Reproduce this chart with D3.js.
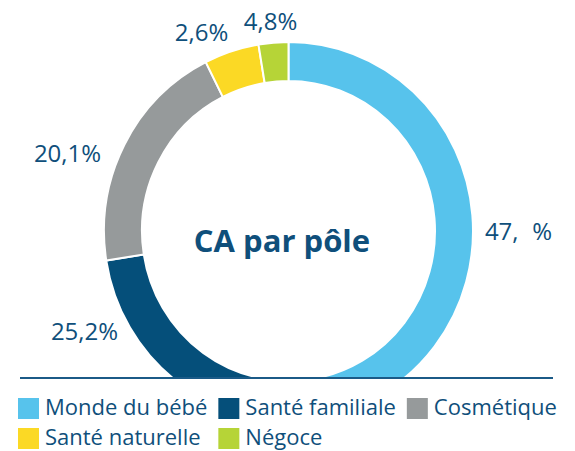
<!DOCTYPE html>
<html>
<head>
<meta charset="utf-8">
<script src="https://cdn.jsdelivr.net/npm/d3@7"></script>
<style>
  body { margin: 0; background: #fff; }
  svg { display: block; font-family: "Open Sans", sans-serif; }
</style>
</head>
<body>
<div id="chart"></div>
<script>
// data
const categories = ["Monde du bébé", "Santé familiale", "Cosmétique", "Santé naturelle", "Négoce"];
const shares = [47.3, 25.2, 20.1, 4.8, 2.6];
const colors = ["#57c3ec", "#054f7a", "#969a9b", "#fbd925", "#b6d437"];
// label anchors, relative to the donut centre
const labelOffsets = [[230, 1], [-204, 101], [-221, -77], [-18, -209], [-87, -198]];
const title = "CA par pôle";

const width = 575, height = 451;
const cx = 288.5, cy = 231, outerR = 184.5, innerR = 146.5;
const squash = 1.024; // the ring is drawn slightly taller than wide
const baseY = 378;
const textColor = "#0f4f7b";

const svg = d3.select("#chart").append("svg")
    .attr("width", width)
    .attr("height", height);

const defs = svg.append("defs");
defs.append("clipPath").attr("id", "donutClip")
  .append("rect").attr("x", 0).attr("y", 0).attr("width", width).attr("height", baseY);
defs.append("clipPath").attr("id", "labelClip")
  .append("rect").attr("x", 0).attr("y", 0).attr("width", 553).attr("height", baseY);

const pie = d3.pie().sort(null).value(d => d);
const arc = d3.arc().innerRadius(innerR).outerRadius(outerR);
const arcs = pie(shares);

const donut = svg.append("g")
    .attr("clip-path", "url(#donutClip)")
  .append("g")
    .attr("transform", "translate(" + cx + "," + cy + ") scale(1," + squash + ")");

donut.selectAll("path.slice").data(arcs)
  .enter().append("path")
    .attr("class", "slice")
    .attr("d", arc)
    .attr("fill", (d, i) => colors[i])
    .attr("stroke", "#fff")
    .attr("stroke-width", 2);

// centre title
svg.append("text")
    .attr("x", 282)
    .attr("y", 252)
    .attr("text-anchor", "middle")
    .style("font-size", "31px")
    .style("font-weight", "700")
    .style("fill", textColor)
    .text(title);

// percentage labels
const fmt = v => d3.format(".1f")(v).replace(".", ",");
const labels = svg.append("g")
    .attr("clip-path", "url(#labelClip)")
  .selectAll("text.pct").data(arcs)
  .enter().append("text")
    .attr("class", "pct")
    .attr("x", (d, i) => cx + labelOffsets[i][0])
    .attr("y", (d, i) => cy + labelOffsets[i][1])
    .attr("dy", "0.35em")
    .attr("text-anchor", "middle")
    .style("font-size", "24px")
    .style("fill", textColor);

labels.each(function(d, i) {
    const t = d3.select(this);
    const parts = fmt(d.data).split(",");
    if (i === 0) {
        // the decimal digit is not visible in the source picture
        t.append("tspan").text(parts[0] + ",");
        t.append("tspan").style("fill-opacity", 0).text(parts[1]);
        t.append("tspan").text("%");
    } else {
        t.text(parts[0] + "," + parts[1] + "%");
    }
});

// base line
svg.append("line")
    .attr("x1", 20).attr("x2", 553)
    .attr("y1", baseY).attr("y2", baseY)
    .attr("stroke", "#1b5a87")
    .attr("stroke-width", 2);

// legend
const legend = svg.append("g").attr("class", "legend");
const sw = 21, gap = 6, colGap = 11, perRow = 3;
const rowY = [398, 428];

const items = legend.selectAll("g.item").data(categories)
  .enter().append("g")
    .attr("class", "item");

items.append("rect")
    .attr("width", sw)
    .attr("height", sw)
    .attr("fill", (d, i) => colors[i]);

items.append("text")
    .attr("x", sw + gap)
    .attr("y", 17)
    .style("font-size", "22px")
    .style("fill", textColor)
    .text(d => d);

// column starts follow the first row's widths
const colX = [18];
items.each(function(d, i) {
    if (i < perRow - 1) {
        const w = d3.select(this).node().getBBox().width;
        colX.push(colX[i] + w + colGap);
    }
});
items.attr("transform", (d, i) =>
    "translate(" + colX[i % perRow] + "," + rowY[Math.floor(i / perRow)] + ")");
</script>
</body>
</html>
